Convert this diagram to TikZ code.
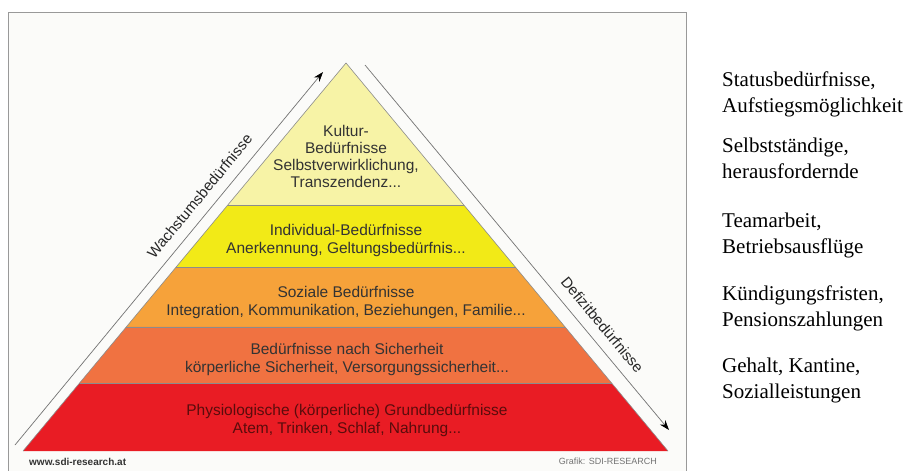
\documentclass[tikz,border=0pt]{standalone}
\usepackage{fontspec}
\setmainfont{Liberation Sans}
\newfontfamily\timesfont{Liberation Serif}
\usetikzlibrary{calc,arrows.meta}

\definecolor{paleyel}{RGB}{247,243,166}
\definecolor{yel}{RGB}{242,234,23}
\definecolor{ora}{RGB}{246,162,58}
\definecolor{orared}{RGB}{240,114,65}
\definecolor{redbase}{RGB}{233,28,36}
\definecolor{framebg}{RGB}{251,251,249}
\definecolor{darkred}{RGB}{90,12,12}

\begin{document}
\begin{tikzpicture}
  [
    x=1pt, y=-1pt,
    border/.style={draw=black!45, line width=0.6pt},
    lvl/.style={align=center, font=\fontsize{15.5}{18}\selectfont, text=black!80},
    need/.style={anchor=base west, align=left, inner sep=0pt, font=\timesfont\fontsize{21}{25.5}\selectfont},
    side/.style={draw=black!55, line width=0.7pt, -{Stealth[length=10pt,width=7pt,black]}},
    sidelbl/.style={font=\fontsize{15}{18}\selectfont, text=black!85, sloped, above=7pt}
  ]
  \useasboundingbox (0,0) rectangle (908,471);
  % Rahmen
  \fill[framebg] (8,12) rectangle (686,473);
  \draw[black!40, line width=0.8pt] (8,473) -- (8,12) -- (686,12) -- (686,473);

  % Pyramide
  \coordinate (top) at (346,63);
  \coordinate (bl) at (23,451);
  \coordinate (br) at (668,451);
  \coordinate (l1) at ($(top)!0.366!(bl)$);
  \coordinate (r1) at ($(top)!0.366!(br)$);
  \coordinate (l2) at ($(top)!0.527!(bl)$);
  \coordinate (r2) at ($(top)!0.527!(br)$);
  \coordinate (l3) at ($(top)!0.680!(bl)$);
  \coordinate (r3) at ($(top)!0.680!(br)$);
  \coordinate (l4) at ($(top)!0.825!(bl)$);
  \coordinate (r4) at ($(top)!0.825!(br)$);
  \fill[paleyel] (top) -- (l1) -- (r1) -- cycle;
  \fill[yel] (l1) -- (l2) -- (r2) -- (r1) -- cycle;
  \fill[ora] (l2) -- (l3) -- (r3) -- (r2) -- cycle;
  \fill[orared] (l3) -- (l4) -- (r4) -- (r3) -- cycle;
  \fill[redbase] (l4) -- (bl) -- (br) -- (r4) -- cycle;
  \draw[border] (l1) -- (r1);
  \draw[border] (l2) -- (r2);
  \draw[border] (l3) -- (r3);
  \draw[border] (l4) -- (r4);
  \draw[border] (bl) -- (top) -- (br);

  \node[lvl, font=\fontsize{15.5}{17}\selectfont] (kultur) at (346,156) {Kultur-\\Bedürfnisse\\Selbstverwirklichung,\\Transzendenz...};
  \node[lvl] (indiv) at (346,240) {Individual-Bedürfnisse\\Anerkennung, Geltungsbedürfnis...};
  \node[lvl] (sozial) at (346,302) {Soziale Bedürfnisse\\Integration, Kommunikation, Beziehungen, Familie...};
  \node[lvl] (sicher) at (347,359) {Bedürfnisse nach Sicherheit\\körperliche Sicherheit, Versorgungssicherheit...};
  \node[lvl, text=darkred] (physio) at (347,420) {Physiologische (körperliche) Grundbedürfnisse\\Atem, Trinken, Schlaf, Nahrung...};

  % Pfeile
  \coordinate (wfoot) at (15,445);
  \coordinate (wtip) at (323,72);
  \coordinate (dfoot) at (365,65);
  \coordinate (dtip) at (669,430);
  \draw[side] (wfoot) -- node[sidelbl, pos=0.64] (wachs) {Wachstumsbedürfnisse} (wtip);
  \draw[side] (dfoot) -- node[sidelbl, pos=0.74] (defizit) {Defizitbedürfnisse} (dtip);

  \node[anchor=west, inner sep=0pt, font=\bfseries\fontsize{10}{12}\selectfont, text=black!80] (url) at (29,462) {www.sdi-research.at};
  \node[anchor=east, inner sep=0pt, font=\fontsize{9}{11}\selectfont, text=black!55] (grafik) at (657,461) {Grafik: SDI-RESEARCH};

  % Beispiele
  \node[need] (status) at (722,112) {Statusbedürfnisse,\\Aufstiegsmöglichkeit};
  \node[need] (selbst) at (722,178) {Selbstständige,\\herausfordernde};
  \node[need] (team) at (722,253) {Teamarbeit,\\Betriebsausflüge};
  \node[need] (kuend) at (722,326) {Kündigungsfristen,\\Pensionszahlungen};
  \node[need] (gehalt) at (722,398) {Gehalt, Kantine,\\Sozialleistungen};
\end{tikzpicture}
\end{document}
